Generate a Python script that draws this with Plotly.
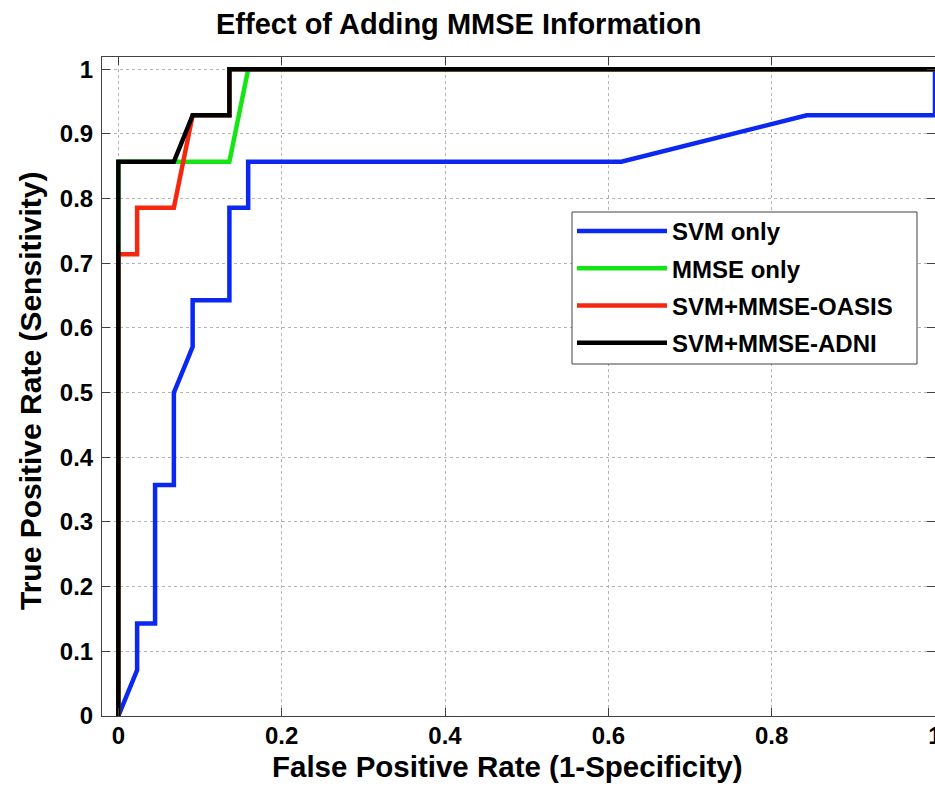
import plotly.graph_objects as go

# ROC curve data
svm_fpr = [0, 0.023, 0.023, 0.045, 0.045, 0.068, 0.068, 0.091, 0.091, 0.136, 0.136, 0.159, 0.159, 0.616, 0.843, 1.0, 1.0]
svm_tpr = [0, 0.071, 0.143, 0.143, 0.357, 0.357, 0.5, 0.571, 0.643, 0.643, 0.786, 0.786, 0.857, 0.857, 0.929, 0.929, 1.0]

mmse_fpr = [0, 0, 0.136, 0.159, 1.0]
mmse_tpr = [0, 0.857, 0.857, 1.0, 1.0]

oasis_fpr = [0, 0, 0.023, 0.023, 0.068, 0.091, 0.136, 0.136, 1.0]
oasis_tpr = [0, 0.714, 0.714, 0.786, 0.786, 0.929, 0.929, 1.0, 1.0]

adni_fpr = [0, 0, 0.068, 0.091, 0.136, 0.136, 1.0]
adni_tpr = [0, 0.857, 0.857, 0.929, 0.929, 1.0, 1.0]

series_names = ["SVM only", "MMSE only", "SVM+MMSE-OASIS", "SVM+MMSE-ADNI"]
series_colors = ["#0a28f0", "#14e614", "#f5280f", "#000000"]

x_ticks = [0, 0.2, 0.4, 0.6, 0.8, 1.0]
x_tick_labels = ["0", "0.2", "0.4", "0.6", "0.8", "1"]
y_ticks = [0, 0.1, 0.2, 0.3, 0.4, 0.5, 0.6, 0.7, 0.8, 0.9, 1.0]
y_tick_labels = ["0", "0.1", "0.2", "0.3", "0.4", "0.5", "0.6", "0.7", "0.8", "0.9", "1"]

FONT = "Liberation Sans, Arial, Helvetica, sans-serif"

W, H = 935, 789
ML, MR, MT, MB = 102, 0, 57, 73
PW, PH = W - ML - MR, H - MT - MB

def px_to_paper_x(px):
    return (px - ML) / PW

def px_to_paper_y(py):
    return (H - MB - py) / PH

fig = go.Figure()
data = [(svm_fpr, svm_tpr), (mmse_fpr, mmse_tpr), (oasis_fpr, oasis_tpr), (adni_fpr, adni_tpr)]
for i, ((xs, ys), name, col) in enumerate(zip(data, series_names, series_colors)):
    fig.add_trace(go.Scatter(
        x=xs, y=ys, mode="lines", name=name,
        line=dict(color=col, width=4.5),
        legendgroup="g%d" % i,
    ))

axis_common = dict(
    ticks="inside", ticklen=8, tickwidth=1, tickcolor="#404040",
    showline=True, linecolor="#404040", linewidth=1, mirror="ticks",
    showgrid=True, gridcolor="#b4b4b4", griddash="dot", gridwidth=1,
    zeroline=False, ticklabeloverflow="allow", automargin=False,
    tickfont=dict(family=FONT, size=24, color="#000000", weight="bold"),
)

fig.update_xaxes(range=[-0.02, 1.0], tickvals=x_ticks, ticktext=x_tick_labels,
                 ticklabelstandoff=-2, **axis_common)
fig.update_yaxes(range=[0, 1.019], tickvals=y_ticks, ticktext=y_tick_labels,
                 ticklabelstandoff=3, **axis_common)

# legend frame (drawn as a box behind the transparent legend)
fig.add_shape(type="rect", xref="paper", yref="paper", layer="above",
              x0=px_to_paper_x(572), x1=px_to_paper_x(917),
              y0=px_to_paper_y(364), y1=px_to_paper_y(212),
              line=dict(color="#404040", width=1), fillcolor="white")

fig.update_layout(
    width=W, height=H,
    margin=dict(l=ML, r=MR, t=MT, b=MB, pad=0, autoexpand=False),
    paper_bgcolor="white", plot_bgcolor="white",
    showlegend=True,
    legend=dict(
        x=px_to_paper_x(572), y=px_to_paper_y(209), xanchor="left", yanchor="top",
        bgcolor="rgba(0,0,0,0)", borderwidth=0,
        font=dict(family=FONT, size=24, color="#000000", weight="bold"),
        tracegroupgap=3, itemwidth=90,
    ),
    annotations=[
        dict(text="Effect of Adding MMSE Information", xref="paper", yref="paper",
             x=px_to_paper_x(458), y=px_to_paper_y(24), xanchor="center", yanchor="middle",
             showarrow=False, font=dict(family=FONT, size=29, color="#000000", weight="bold")),
        dict(text="False Positive Rate (1-Specificity)", xref="paper", yref="paper",
             x=px_to_paper_x(507), y=px_to_paper_y(766), xanchor="center", yanchor="middle",
             showarrow=False, font=dict(family=FONT, size=29.5, color="#000000", weight="bold")),
        dict(text="True Positive Rate (Sensitivity)", xref="paper", yref="paper",
             x=px_to_paper_x(30), y=px_to_paper_y(391), xanchor="center", yanchor="middle",
             textangle=-90,
             showarrow=False, font=dict(family=FONT, size=30, color="#000000", weight="bold")),
    ],
)

fig.write_html("out.html")
